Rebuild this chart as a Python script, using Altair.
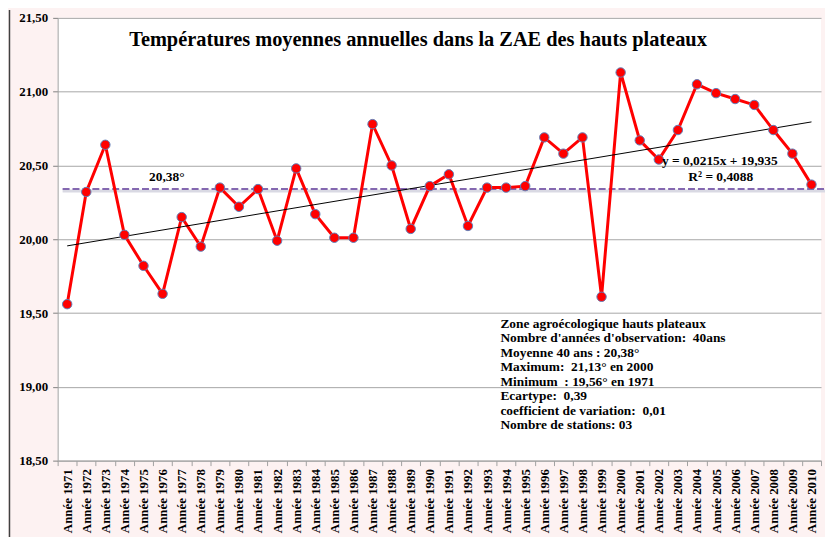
import altair as alt
import pandas as pd

# ---------------- data ----------------
years = [str(y) for y in range(1971, 2011)]
temps = [19.56, 20.32, 20.64, 20.03, 19.82, 19.63, 20.15, 19.95, 20.35, 20.22,
         20.34, 19.99, 20.48, 20.17, 20.01, 20.01, 20.78, 20.50, 20.07, 20.36,
         20.44, 20.09, 20.35, 20.35, 20.36, 20.69, 20.58, 20.69, 19.61, 21.13,
         20.67, 20.54, 20.74, 21.05, 20.99, 20.95, 20.91, 20.74, 20.58, 20.37]
mean_line = [20.34]
mean_label = "20,38°"
trend_years = ["1971", "2010"]
trend_values = [19.955, 20.795]
y_ticks = [18.5, 19.0, 19.5, 20.0, 20.5, 21.0, 21.5]
title_text = "Températures moyennes annuelles dans la ZAE des hauts plateaux"
trend_eq = "y = 0,0215x + 19,935"
trend_r2 = "R² = 0,4088"
info_lines = [
    "Zone agroécologique hauts plateaux",
    "Nombre d'années d'observation:\u00a0 40ans",
    "Moyenne 40 ans : 20,38°",
    "Maximum:\u00a0 21,13° en 2000",
    "Minimum\u00a0 : 19,56° en 1971",
    "Ecartype:\u00a0 0,39",
    "coefficient de variation:\u00a0 0,01",
    "Nombre de stations: 03",
]

labels = ["Année " + y for y in years]
df = pd.DataFrame({"annee": labels, "temp": temps})
df_trend = pd.DataFrame({"annee": ["Année " + y for y in trend_years], "temp": trend_values})
df_mean = pd.DataFrame({"temp": mean_line})
one = pd.DataFrame({"a": [0]})

FONT = "Liberation Serif"

x_enc = alt.X(
    "annee:N", sort=labels,
    scale=alt.Scale(type="band", domain=labels, paddingInner=0, paddingOuter=0),
    axis=alt.Axis(title=None, labelAngle=-90, labelFont=FONT, labelFontSize=13,
                  labelFontWeight="bold", labelColor="black", labelPadding=3,
                  tickBand="extent", tickSize=5, tickColor="#a0a0a0",
                  domainColor="#a0a0a0", grid=False),
)
y_enc = alt.Y(
    "temp:Q",
    scale=alt.Scale(domain=[18.5, 21.5], nice=False, zero=False),
    axis=alt.Axis(title=None, values=y_ticks,
                  labelExpr="replace(format(datum.value, '.2f'), '.', ',')",
                  labelFont=FONT, labelFontSize=13, labelFontWeight="bold",
                  labelColor="black", labelPadding=5, tickSize=5,
                  tickColor="#808080", domainColor="#a0a0a0",
                  grid=True, gridColor="#a6a6a6", gridWidth=1),
)

shadow = alt.Chart(df_mean).mark_rule(color="#d9d9e3", strokeWidth=3, yOffset=2).encode(
    y="temp:Q", x=alt.value(5), x2=alt.value(775))
mean_rule = alt.Chart(df_mean).mark_rule(color="#8468b0", strokeWidth=2, strokeDash=[7, 3]).encode(
    y="temp:Q", x=alt.value(5), x2=alt.value(775))

line = alt.Chart(df).mark_line(color="#ff0000", strokeWidth=3).encode(x=x_enc, y=y_enc)
points = alt.Chart(df).mark_circle(size=90, color="#ff0000", opacity=1,
                                   stroke="#5f7fb8", strokeWidth=1).encode(x="annee:N", y="temp:Q")
trend = alt.Chart(df_trend).mark_line(color="black", strokeWidth=1).encode(x="annee:N", y="temp:Q")


def txt(text, x, y, size=13.5, align="left"):
    return alt.Chart(one).mark_text(text=text, font=FONT, fontSize=size, fontWeight="bold",
                                    color="black", align=align, baseline="alphabetic",
                                    lineHeight=14.6).encode(x=alt.value(x), y=alt.value(y))


title = txt(title_text, 363, 28, size=20.5, align="center")
mean_txt = txt(mean_label, 110, 164, align="center")
eq_txt = txt(trend_eq, 667, 148, align="center")
r2_txt = txt(trend_r2, 668, 164, align="center")
info_txt = txt(info_lines, 446, 312)

border = alt.Chart(one).mark_rule(color="#404040", strokeWidth=1.5).encode(
    x=alt.value(-48.5), y=alt.value(-8), y2=alt.value(525))

chart = alt.layer(
    border, shadow, mean_rule, line, trend, points,
    title, mean_txt, eq_txt, r2_txt, info_txt,
).properties(
    width=769, height=446,
    padding={"left": 50, "top": 8, "right": 4, "bottom": 75},
    autosize="none",
).configure(background="#fdf2f2").configure_view(fill="white", strokeWidth=0)

chart.save("out.html", embed_options={"renderer": "svg", "actions": False})
